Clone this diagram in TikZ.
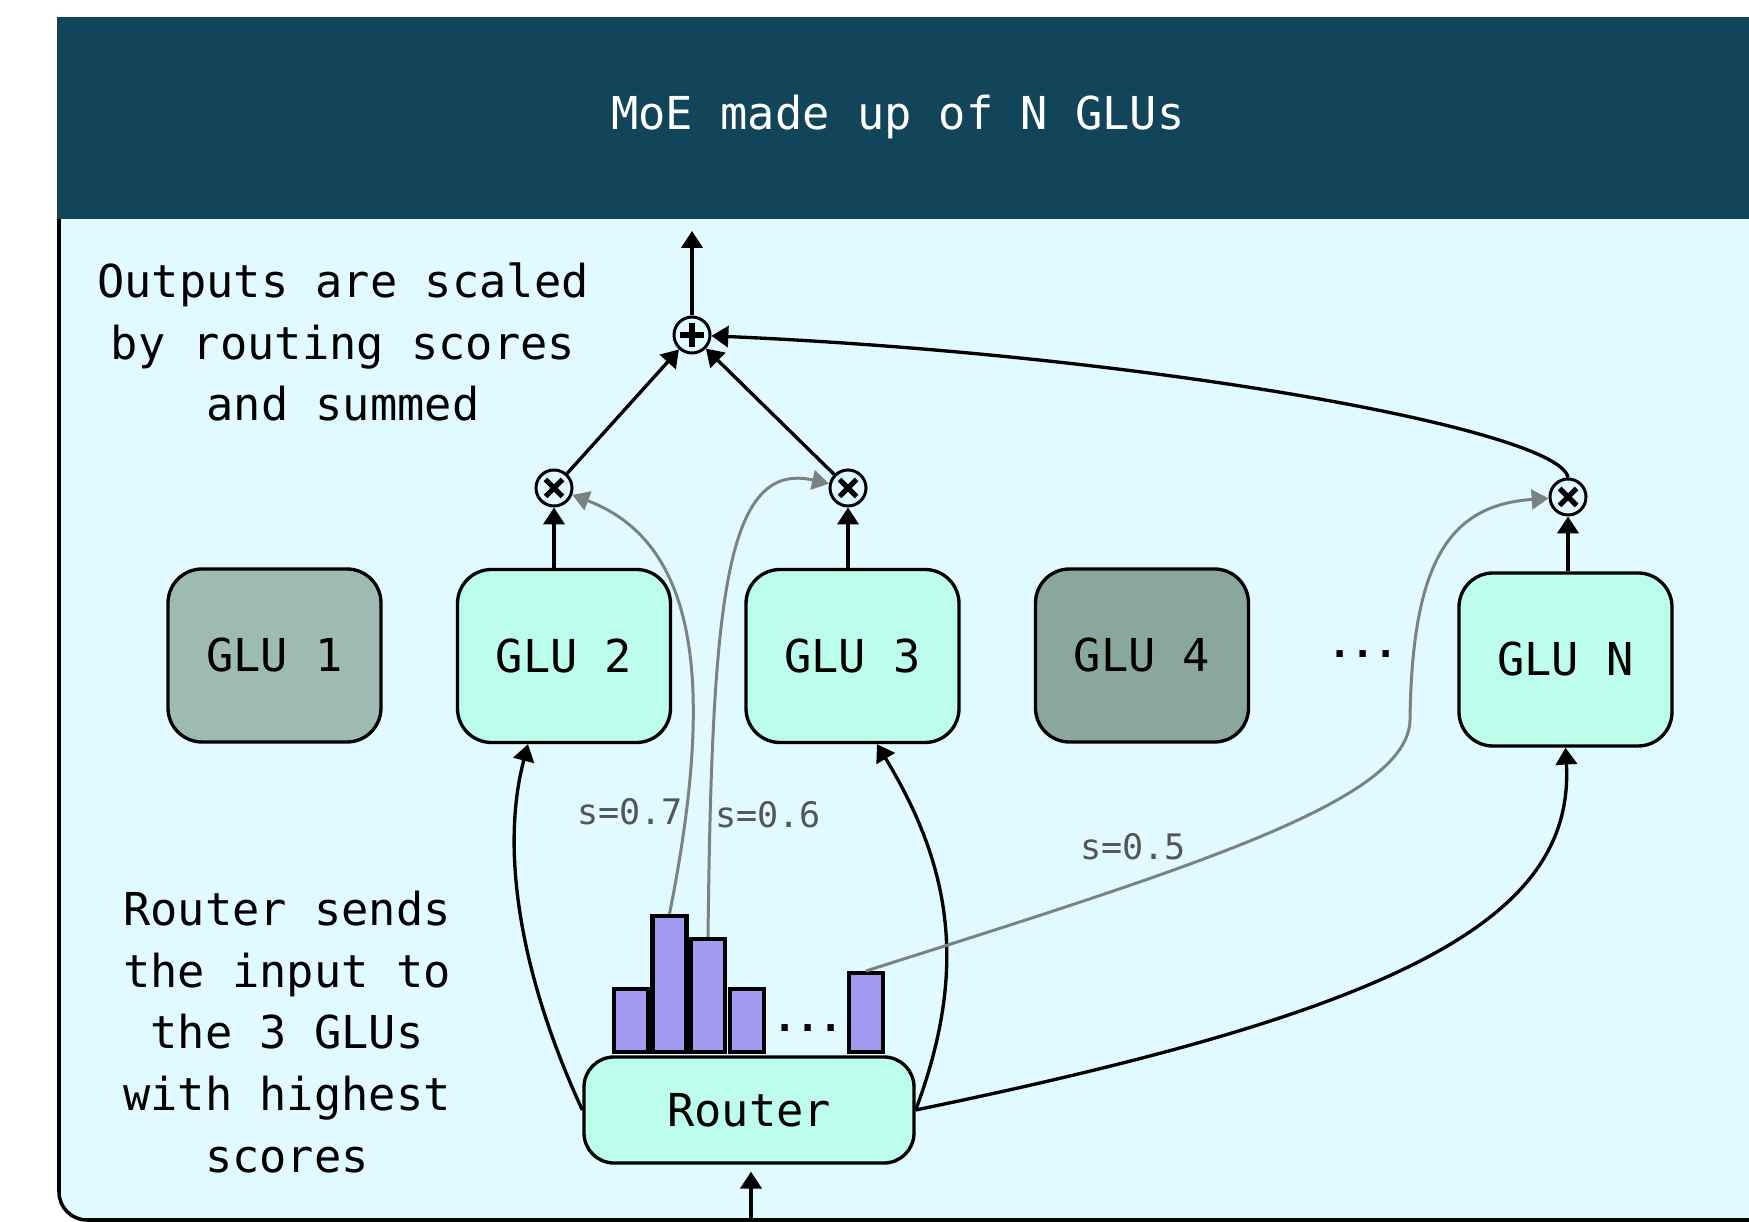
\documentclass[tikz,border=0pt]{standalone}
\usepackage{fontspec}
\setmainfont{DejaVu Sans Mono}
\usetikzlibrary{arrows.meta}
\definecolor{headbg}{HTML}{124559}
\definecolor{panelbg}{HTML}{E0FAFF}
\definecolor{gluon}{HTML}{BDFDEB}
\definecolor{gluoffa}{HTML}{9DBAB3}
\definecolor{gluoffb}{HTML}{8AA79E}
\definecolor{barfill}{HTML}{A29AF0}
\definecolor{scoreline}{HTML}{7B8282}
\definecolor{scoretext}{HTML}{555555}

\begin{document}
\begin{tikzpicture}[
    glu/.style={draw, line width=0.95pt, rounded corners=0.34cm, minimum width=2.13cm, minimum height=1.73cm, fill=gluon, font=\fontsize{12.9}{15}\selectfont},
    rtr/.style={draw, line width=0.95pt, rounded corners=0.3cm, minimum width=3.30cm, minimum height=1.06cm, fill=gluon, font=\fontsize{12.9}{15}\selectfont},
    bar/.style={draw, line width=1.15pt, fill=barfill, minimum width=0.34cm, inner sep=0pt, anchor=south},
    op/.style={circle, draw, line width=0.85pt, minimum size=0.36cm, inner sep=0pt, fill=panelbg},
    plusop/.style={op, path picture={\draw[line width=1.5pt]
        ([xshift=-1.2mm]path picture bounding box.center) -- ([xshift=1.2mm]path picture bounding box.center)
        ([yshift=-1.2mm]path picture bounding box.center) -- ([yshift=1.2mm]path picture bounding box.center);}},
    timesop/.style={op, path picture={\draw[line width=1.5pt]
        ([shift={(-0.85mm,-0.85mm)}]path picture bounding box.center) -- ([shift={(0.85mm,0.85mm)}]path picture bounding box.center)
        ([shift={(-0.85mm,0.85mm)}]path picture bounding box.center) -- ([shift={(0.85mm,-0.85mm)}]path picture bounding box.center);}},
    arr/.style={-{Triangle[length=4.8pt,width=6pt]}, line width=0.95pt},
    score/.style={-{Triangle[length=4.8pt,width=5.6pt]}, line width=0.85pt, color=scoreline},
    note/.style={align=center, font=\fontsize{12.9}{17.55}\selectfont},
    slbl/.style={text=scoretext, font=\fontsize{10}{12}\selectfont},
    ttl/.style={text=white, font=\fontsize{12.9}{15}\selectfont},
    dotsl/.style={inner sep=0pt, font=\bfseries\fontsize{11}{13}\selectfont}
]
    \clip (0,0) rectangle (17.49,-12.22);
    \draw[line width=1pt, fill=panelbg, rounded corners=0.28cm] (0.59,-0.6) rectangle (18.2,-12.20);
    \fill[headbg] (0.565,-0.17) rectangle (18.2,-2.19);
    \node[ttl] (title) at (8.98,-1.17) {MoE made up of N GLUs};

    \node[note] (scaled) at (3.43,-3.42) {Outputs are scaled\\by routing scores\\and summed};
    \node[note] (sends) at (2.87,-10.32) {Router sends\\the input to\\the 3 GLUs\\with highest\\scores};

    \node[plusop] (sum) at (6.92,-3.35) {};
    \coordinate (out) at (6.92,-2.31);
    \node[timesop] (t1) at (5.54,-4.88) {};
    \node[timesop] (t2) at (8.48,-4.88) {};
    \node[timesop] (tN) at (15.68,-4.97) {};

    \node[glu, fill=gluoffa] (glu1) at (2.745,-6.555) {GLU 1};
    \node[glu] (glu2) at (5.64,-6.56) {GLU 2};
    \node[glu] (glu3) at (8.525,-6.56) {GLU 3};
    \node[glu, fill=gluoffb] (glu4) at (11.42,-6.555) {GLU 4};
    \node[dotsl] (more) at (13.63,-6.54) {...};
    \node[glu] (gluN) at (15.655,-6.595) {GLU N};

    \node[rtr] (router) at (7.49,-11.10) {Router};
    \coordinate (in) at (7.51,-12.22);
    \node[bar, minimum height=0.63cm] (b1) at (6.31,-10.54) {};
    \node[bar, minimum height=1.36cm] (b2) at (6.695,-10.54) {};
    \node[bar, minimum height=1.13cm] (b3) at (7.08,-10.54) {};
    \node[bar, minimum height=0.63cm] (b4) at (7.47,-10.54) {};
    \node[dotsl] (rmore) at (8.08,-10.28) {...};
    \node[bar, minimum height=0.79cm] (b5) at (8.66,-10.54) {};

    \node[slbl] (s7) at (6.30,-8.12) {s=0.7};
    \node[slbl] (s6) at (7.68,-8.15) {s=0.6};
    \node[slbl] (s5) at (11.33,-8.47) {s=0.5};

    \draw[arr, shorten >=2pt] (in) -- (in |- router.south);
    \draw[arr] (router.west) .. controls (5.20,-9.75) and (5.00,-8.50) .. ([xshift=-0.36cm]glu2.south);
    \draw[arr] (router.east) .. controls (9.68,-9.70) and (9.52,-8.68) .. ([xshift=0.245cm]glu3.south);
    \draw[arr] (router.east) .. controls (14.00,-10.10) and (15.75,-9.20) .. (gluN.south);

    \draw[score] (b2.north) .. controls (7.12,-7.00) and (7.05,-5.45) .. (t1);
    \draw[score] (b3.north) .. controls (7.12,-6.00) and (7.25,-4.60) .. (t2);
    \coordinate (bend) at (14.10,-7.20);
    \draw[score] (b5.north) .. controls (12.00,-8.65) and (14.08,-8.00) .. (bend) .. controls (14.12,-5.60) and (14.50,-5.05) .. (tN);

    \draw[arr] (t1 |- glu2.north) -- (t1);
    \draw[arr] (t2 |- glu3.north) -- (t2);
    \draw[arr] (tN |- gluN.north) -- (tN);
    \draw[arr] (t1) -- (sum);
    \draw[arr] (t2) -- (sum);
    \draw[arr] (tN.north) .. controls (15.60,-4.30) and (11.50,-3.55) .. (sum);
    \draw[arr] (sum) -- (out);
\end{tikzpicture}
\end{document}
